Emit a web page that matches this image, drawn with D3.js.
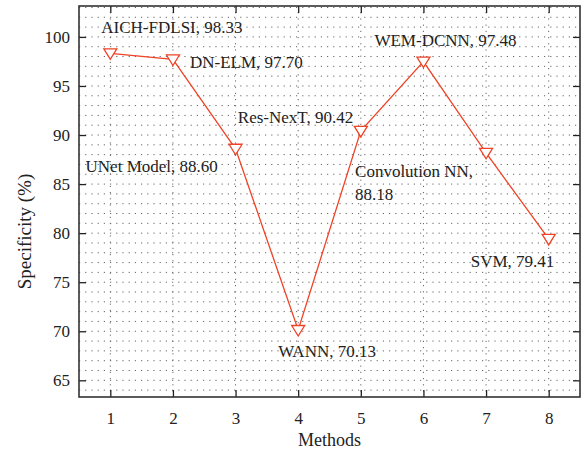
<!DOCTYPE html>
<html>
<head>
<meta charset="utf-8">
<script src="https://cdn.jsdelivr.net/npm/d3@7"></script>
<style>
  body { margin: 0; background: #fff; }
  text { font-family: "Liberation Serif", "DejaVu Serif", serif; fill: #222; }
</style>
</head>
<body>
<div id="chart"></div>
<script>
// data
var methods = [1, 2, 3, 4, 5, 6, 7, 8];
var specificity = [98.33, 97.70, 88.60, 70.13, 90.42, 97.48, 88.18, 79.41];
var names = ["AICH-FDLSI", "DN-ELM", "UNet Model", "WANN", "Res-NexT", "WEM-DCNN", "Convolution NN", "SVM"];
var yTicks = [65, 70, 75, 80, 85, 90, 95, 100];

// where each annotation sits relative to its point (dx, dy in px)
var labelOffset = [[-9, -26], [17, 3], [-150, 17], [-20, 21], [-123, -14], [-49, -22], [-131, 18], [-78, 22]];

var W = 583, H = 451;
var margin = {top: 6, right: 3, bottom: 54, left: 79},
    width = W - margin.left - margin.right,
    height = H - margin.top - margin.bottom;

var svg = d3.select("#chart").append("svg")
  .attr("width", W).attr("height", H);

var g = svg.append("g")
  .attr("transform", "translate(" + margin.left + "," + margin.top + ")");

var x = d3.scaleLinear().domain([0.5, 8.5]).range([0, width]);
var y = d3.scaleLinear().domain([63.3, 103.15]).range([height, 0]);

// dotted grid: every unit horizontally, every method vertically
var grid = g.append("g").attr("class", "grid");
grid.selectAll("line.h")
  .data(d3.range(64, 104))
  .enter().append("line")
    .attr("x1", 0).attr("x2", width)
    .attr("y1", function(d){ return y(d); })
    .attr("y2", function(d){ return y(d); })
    .attr("stroke", "#666")
    .attr("stroke-width", 1)
    .attr("stroke-dasharray", "1.2,5");
grid.selectAll("line.v")
  .data(methods)
  .enter().append("line")
    .attr("y1", 0).attr("y2", height)
    .attr("x1", function(d){ return x(d); })
    .attr("x2", function(d){ return x(d); })
    .attr("stroke", "#666")
    .attr("stroke-width", 1)
    .attr("stroke-dasharray", "1.2,5");

// axes, ticks pointing in, mirrored on top/right
function styleAxis(sel){
  sel.select(".domain").remove();
  sel.selectAll(".tick line").attr("stroke", "#222").attr("stroke-width", 1.3);
  sel.selectAll(".tick text").style("font-size", "17px");
}
g.append("g")
  .attr("transform", "translate(0," + height + ")")
  .call(d3.axisBottom(x).tickValues(methods).tickSizeInner(-7).tickPadding(15).tickFormat(d3.format("d")))
  .call(styleAxis);
g.append("g")
  .call(d3.axisLeft(y).tickValues(yTicks).tickSizeInner(-7).tickPadding(9))
  .call(styleAxis);
g.append("g")
  .call(d3.axisTop(x).tickValues(methods).tickSizeInner(-7).tickFormat(""))
  .call(styleAxis);
g.append("g")
  .attr("transform", "translate(" + width + ",0)")
  .call(d3.axisRight(y).tickValues(yTicks).tickSizeInner(-7).tickFormat(""))
  .call(styleAxis);

g.append("rect")
  .attr("width", width).attr("height", height)
  .attr("fill", "none").attr("stroke", "#333").attr("stroke-width", 1.6);

// line
var red = "#ef4326";
var line = d3.line()
  .x(function(d, i){ return x(methods[i]); })
  .y(function(d){ return y(d); });
g.append("path")
  .datum(specificity)
  .attr("d", line)
  .attr("fill", "none")
  .attr("stroke", red)
  .attr("stroke-width", 1.3);

// downward triangle markers
g.selectAll(".mark")
  .data(specificity)
  .enter().append("path")
    .attr("class", "mark")
    .attr("d", "M-6.5,-4.5L6.5,-4.5L0,6Z")
    .attr("transform", function(d, i){ return "translate(" + x(methods[i]) + "," + y(d) + ")"; })
    .attr("fill", "#fff")
    .attr("stroke", red)
    .attr("stroke-width", 1.3);

// annotations
var lab = g.selectAll(".lab")
  .data(specificity)
  .enter().append("text")
    .attr("class", "lab")
    .style("font-size", "17px")
    .attr("x", function(d, i){ return x(methods[i]) + labelOffset[i][0]; })
    .attr("y", function(d, i){ return y(d) + labelOffset[i][1]; })
    .attr("dy", "0.35em");
lab.each(function(d, i){
  var t = d3.select(this);
  if (names[i] === "Convolution NN") {
    t.append("tspan").text(names[i] + ",");
    t.append("tspan").attr("x", x(methods[i]) + labelOffset[i][0]).attr("dy", "1.35em").text(d.toFixed(2));
  } else {
    t.text(names[i] + ", " + d.toFixed(2));
  }
});

// axis titles
svg.append("text")
  .attr("x", margin.left + width / 2).attr("y", 446)
  .attr("text-anchor", "middle")
  .style("font-size", "18px")
  .text("Methods");
svg.append("text")
  .attr("transform", "translate(31," + (margin.top + height / 2 + 30) + ") rotate(-90)")
  .attr("text-anchor", "middle")
  .style("font-size", "19px")
  .text("Specificity (%)");
</script>
</body>
</html>
